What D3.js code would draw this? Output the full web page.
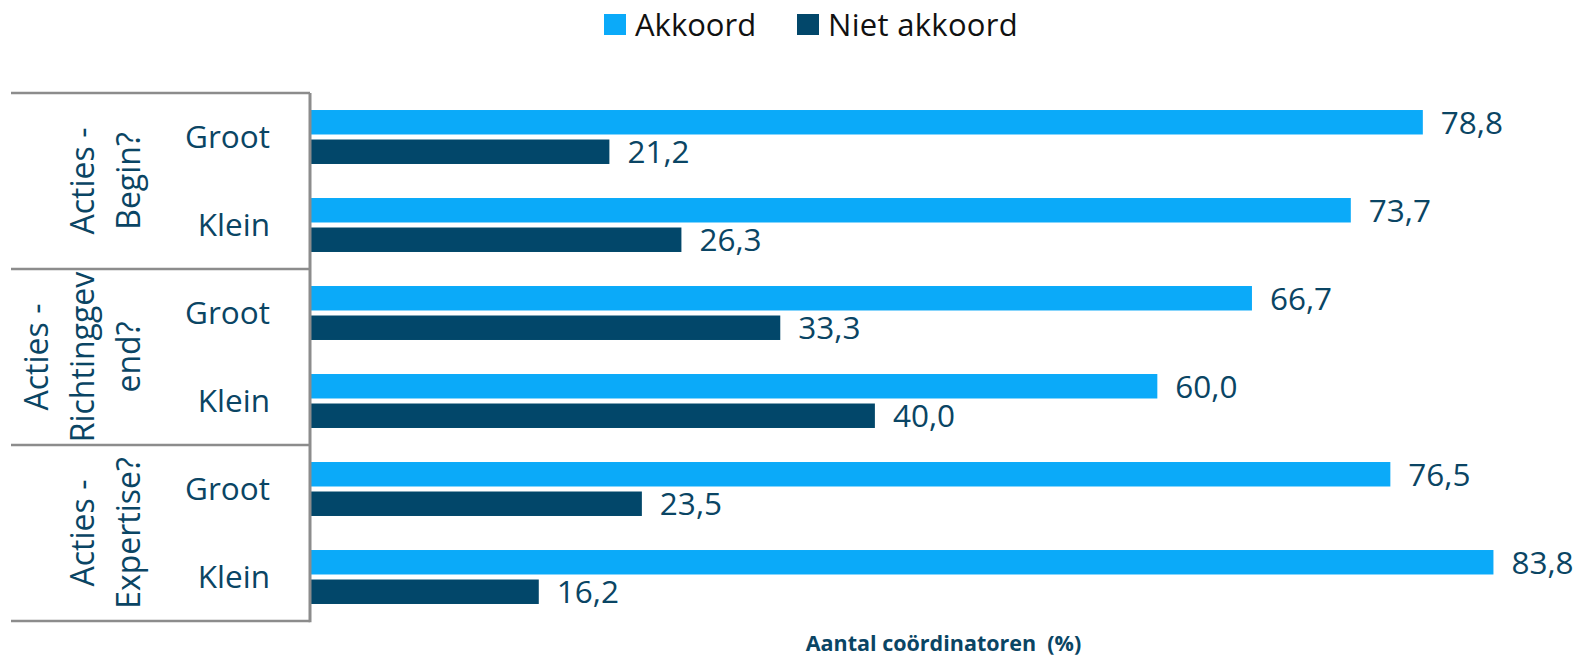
<!DOCTYPE html>
<html>
<head>
<meta charset="utf-8">
<script src="https://cdn.jsdelivr.net/npm/d3@7"></script>
<style>
  html, body { margin: 0; padding: 0; background: #fff; }
  svg { display: block; font-family: "Open Sans", "Noto Sans", sans-serif; }
</style>
</head>
<body>
<svg id="chart" width="1589" height="658"></svg>
<script>
// ---- data ----
const groupLabels = [["Acties -", "Begin?"], ["Acties -", "Richtinggev", "end?"], ["Acties -", "Expertise?"]];
const subCategories = ["Groot", "Klein"];
const seriesNames = ["Akkoord", "Niet akkoord"];
const akkoord = [78.8, 73.7, 66.7, 60.0, 76.5, 83.8];
const nietAkkoord = [21.2, 26.3, 33.3, 40.0, 23.5, 16.2];
const axisTitle = "Aantal coördinatoren  (%)";

// ---- styling / layout ----
const colors = ["#0BAAF9", "#02476A"];
const textColor = "#0A4564";
const lineColor = "#8C8C8C";
const plotLeft = 310, plotRight = 1581, plotTop = 93, plotBottom = 621;

const svg = d3.select("#chart");

const rows = [];
groupLabels.forEach((g, gi) => subCategories.forEach((s, si) => rows.push({ key: gi + "-" + si, gi, sub: s })));
rows.forEach((r, i) => { r.values = [akkoord[i], nietAkkoord[i]]; });

const x = d3.scaleLinear().domain([0, 90]).range([plotLeft, plotRight]);
const y = d3.scaleBand().domain(rows.map(r => r.key)).range([plotTop, plotBottom]).padding(0);
const yInner = d3.scaleBand().domain(seriesNames).range([0, y.bandwidth()]).paddingInner(0.17).paddingOuter(0.577);
const yGroup = d3.scaleBand().domain(d3.range(groupLabels.length)).range([plotTop, plotBottom]).padding(0);

const fmt = v => d3.format(".1f")(v).replace(".", ",");

// bars
const rowG = svg.append("g").selectAll("g").data(rows).join("g")
  .attr("transform", r => `translate(0,${y(r.key)})`);

rowG.selectAll("rect").data(r => r.values.map((v, i) => ({ v, s: seriesNames[i], i })))
  .join("rect")
  .attr("x", x(0))
  .attr("y", d => yInner(d.s))
  .attr("width", d => x(d.v) - x(0))
  .attr("height", yInner.bandwidth())
  .attr("fill", d => colors[d.i]);

rowG.selectAll("text.val").data(r => r.values.map((v, i) => ({ v, s: seriesNames[i], i })))
  .join("text")
  .attr("class", "val")
  .attr("x", d => x(d.v) + 18)
  .attr("y", d => yInner(d.s) + yInner.bandwidth() / 2)
  .attr("dy", "0.36em")
  .attr("font-size", 31.5)
  .attr("fill", textColor)
  .text(d => fmt(d.v));

// sub-category labels
svg.append("g").selectAll("text").data(rows).join("text")
  .attr("x", 270)
  .attr("y", r => y(r.key) + y.bandwidth() / 2)
  .attr("dy", "0.36em")
  .attr("text-anchor", "end")
  .attr("font-size", 31.5)
  .attr("fill", textColor)
  .text(r => r.sub);

// group labels (rotated, multi-line)
const gl = svg.append("g").selectAll("g").data(groupLabels).join("g")
  .attr("transform", (d, i) => `translate(0,${yGroup(i) + yGroup.bandwidth() / 2})`);
gl.each(function (lines) {
  const n = lines.length;
  d3.select(this).selectAll("text").data(lines).join("text")
    .attr("transform", (t, k) => `translate(${128 - 46 * (n - 1 - k)},0) rotate(-90)`)
    .attr("text-anchor", "middle")
    .attr("dy", "0.36em")
    .attr("font-size", 32)
    .attr("fill", textColor)
    .text(t => t);
});

// table lines
const lines = svg.append("g").attr("stroke", lineColor).attr("stroke-width", 2.5);
d3.range(groupLabels.length + 1).forEach(i => {
  const yy = i < groupLabels.length ? yGroup(i) : plotBottom;
  lines.append("line").attr("x1", 11).attr("x2", plotLeft).attr("y1", yy).attr("y2", yy);
});
lines.append("line").attr("x1", plotLeft).attr("x2", plotLeft).attr("y1", plotTop).attr("y2", plotBottom + 1.25).attr("stroke-width", 3);

// axis title
svg.append("text")
  .attr("x", (plotLeft + plotRight) / 2 - 2)
  .attr("y", 651)
  .attr("text-anchor", "middle")
  .attr("font-size", 21.5)
  .attr("font-weight", "bold")
  .attr("fill", textColor)
  .style("white-space", "pre")
  .text(axisTitle);

// legend
const legendX = [604, 797];
const leg = svg.append("g").selectAll("g").data(seriesNames).join("g")
  .attr("transform", (d, i) => `translate(${legendX[i]},14)`);
leg.append("rect").attr("width", 22).attr("height", 21).attr("fill", (d, i) => colors[i]);
leg.append("text").attr("x", 31).attr("y", 11).attr("dy", "0.36em")
  .attr("font-size", 31).attr("fill", "#111")
  .style("letter-spacing", (d, i) => i === 1 ? "0.3px" : "0px")
  .text(d => d);
</script>
</body>
</html>
